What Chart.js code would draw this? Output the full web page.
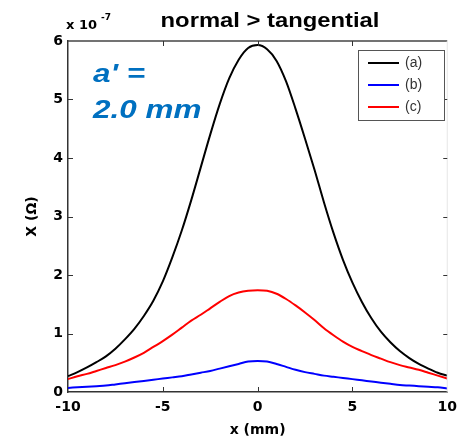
<!DOCTYPE html>
<html>
<head>
<meta charset="utf-8">
<script src="https://cdn.jsdelivr.net/npm/chart.js@4"></script>
<style>
  body { margin: 0; background: #fff; }
</style>
</head>
<body>
<canvas id="myChart" width="464" height="441"></canvas>
<script>
// x positions (mm)
const xValues = [-10, -9.5, -9, -8.5, -8, -7.5, -7, -6.5, -6, -5.5, -5, -4.5, -4, -3.5, -3, -2.5, -2, -1.5, -1, -0.5,
  0, 0.5, 1, 1.5, 2, 2.5, 3, 3.5, 4, 4.5, 5, 5.5, 6, 6.5, 7, 7.5, 8, 8.5, 9, 9.5, 10];
// X in units of 1e-7 ohm
const seriesA = [0.27, 0.34, 0.42, 0.51, 0.61, 0.74, 0.90, 1.08, 1.30, 1.56, 1.89, 2.30, 2.76, 3.28, 3.84, 4.40, 4.92, 5.36, 5.68, 5.88,
  5.93, 5.86, 5.66, 5.31, 4.84, 4.33, 3.80, 3.24, 2.72, 2.26, 1.87, 1.54, 1.26, 1.03, 0.85, 0.70, 0.58, 0.48, 0.40, 0.33, 0.28];
const seriesB = [0.07, 0.08, 0.09, 0.10, 0.11, 0.13, 0.15, 0.17, 0.19, 0.21, 0.23, 0.25, 0.27, 0.30, 0.33, 0.36, 0.40, 0.44, 0.48, 0.52,
  0.53, 0.52, 0.48, 0.43, 0.38, 0.34, 0.31, 0.28, 0.26, 0.24, 0.22, 0.20, 0.18, 0.16, 0.14, 0.12, 0.11, 0.10, 0.09, 0.08, 0.06];
const seriesC = [0.22, 0.27, 0.31, 0.36, 0.41, 0.46, 0.52, 0.59, 0.67, 0.77, 0.87, 0.98, 1.10, 1.22, 1.32, 1.43, 1.54, 1.64, 1.70, 1.73,
  1.74, 1.73, 1.68, 1.59, 1.48, 1.36, 1.23, 1.09, 0.97, 0.86, 0.77, 0.70, 0.63, 0.57, 0.51, 0.46, 0.42, 0.38, 0.33, 0.28, 0.23];
const seriesLabels = ['(a)', '(b)', '(c)'];
const seriesColors = ['#000000', '#0000ff', '#ff0000'];
const xTicks = [-10, -5, 0, 5, 10];
const yTicks = [0, 1, 2, 3, 4, 5, 6];

const toPoints = arr => arr.map((v, i) => ({ x: xValues[i], y: v }));

const decor = {
  id: 'decor',
  afterDraw(chart) {
    const ctx = chart.ctx;
    const a = chart.chartArea;
    const xs = chart.scales.x, ys = chart.scales.y;
    ctx.save();
    // top border and faint right border
    ctx.strokeStyle = '#444';
    ctx.lineWidth = 1.5;
    ctx.beginPath();
    ctx.moveTo(a.left, a.top); ctx.lineTo(a.right, a.top);
    ctx.stroke();
    ctx.strokeStyle = '#e6e6e6';
    ctx.lineWidth = 1;
    ctx.beginPath();
    ctx.moveTo(a.right, a.top); ctx.lineTo(a.right, a.bottom);
    ctx.stroke();
    // inward tick marks
    ctx.strokeStyle = '#333';
    ctx.lineWidth = 1;
    ctx.beginPath();
    xTicks.slice(1, -1).forEach(t => {
      const px = Math.round(xs.getPixelForValue(t)) + 0.5;
      ctx.moveTo(px, a.bottom); ctx.lineTo(px, a.bottom - 5);
      ctx.moveTo(px, a.top); ctx.lineTo(px, a.top + 5);
    });
    yTicks.slice(1, -1).forEach(t => {
      const py = Math.round(ys.getPixelForValue(t)) + 0.5;
      ctx.moveTo(a.left, py); ctx.lineTo(a.left + 5, py);
      ctx.moveTo(a.right, py); ctx.lineTo(a.right - 4, py);
    });
    ctx.stroke();

    // title (stretched like the source image)
    ctx.fillStyle = '#000';
    ctx.textAlign = 'center';
    ctx.textBaseline = 'alphabetic';
    ctx.save();
    ctx.translate(270, 27);
    ctx.scale(1.19, 1);
    ctx.font = 'bold 20px "Liberation Sans", Arial, sans-serif';
    ctx.fillText('normal > tangential', 0, 0);
    ctx.restore();

    // exponent label
    ctx.textAlign = 'left';
    ctx.font = 'bold 13px "DejaVu Sans", sans-serif';
    ctx.fillText('x 10', 66, 29);
    ctx.font = 'bold 9px "DejaVu Sans", sans-serif';
    ctx.fillText('-7', 101, 20);

    // blue annotation
    ctx.fillStyle = '#0070c0';
    ctx.save();
    ctx.translate(93, 82);
    ctx.scale(1.21, 1);
    ctx.font = 'italic bold 26px "Liberation Sans", Arial, sans-serif';
    ctx.fillText("a' =", 0, 0);
    ctx.fillText('2.0 mm', 0, 36);
    ctx.restore();

    // legend box
    const lx = 358, ly = 50, lw = 86, lh = 70;
    ctx.fillStyle = '#fff';
    ctx.fillRect(lx, ly, lw, lh);
    ctx.strokeStyle = '#555';
    ctx.lineWidth = 1;
    ctx.strokeRect(lx + 0.5, ly + 0.5, lw, lh);
    ctx.font = '14px "Liberation Sans", Arial, sans-serif';
    ctx.textBaseline = 'middle';
    chart.data.datasets.forEach((ds, i) => {
      const y = ly + 13 + i * 22;
      ctx.strokeStyle = ds.borderColor;
      ctx.lineWidth = 2;
      ctx.beginPath();
      ctx.moveTo(lx + 10, y); ctx.lineTo(lx + 41, y);
      ctx.stroke();
      ctx.fillStyle = '#333';
      ctx.fillText(ds.label, lx + 47, y);
    });
    ctx.restore();
  }
};

const tickFont = { family: '"DejaVu Sans", sans-serif', size: 14, weight: 'bold' };

const config = {
  type: 'line',
  data: {
    datasets: [seriesA, seriesB, seriesC].map((s, i) => ({
      label: seriesLabels[i],
      data: toPoints(s),
      borderColor: seriesColors[i],
      backgroundColor: seriesColors[i],
      borderWidth: 2,
      pointRadius: 0,
      cubicInterpolationMode: 'monotone',
      fill: false
    }))
  },
  options: {
    responsive: false,
    animation: false,
    layout: { padding: { left: 0, right: 13, top: 41, bottom: 0 } },
    plugins: {
      legend: { display: false },
      tooltip: { enabled: false },
      title: { display: false }
    },
    scales: {
      x: {
        type: 'linear',
        min: -10,
        max: 10,
        afterFit: s => { s.height = 49; },
        afterBuildTicks: s => { s.ticks = xTicks.map(v => ({ value: v })); },
        grid: { display: false, drawTicks: false },
        border: { display: true, color: '#333', width: 1.5 },
        ticks: { color: '#000', font: tickFont, padding: 7, maxRotation: 0 },
        title: {
          display: true,
          text: 'x (mm)',
          color: '#000',
          font: tickFont,
          padding: { top: 0, bottom: 2 }
        }
      },
      y: {
        min: 0,
        max: 6,
        afterFit: s => { s.width = 68; },
        afterBuildTicks: s => { s.ticks = yTicks.map(v => ({ value: v })); },
        grid: { display: false, drawTicks: false },
        border: { display: true, color: '#333', width: 1.5 },
        ticks: { color: '#000', font: tickFont, padding: 5 },
        title: {
          display: true,
          text: 'X (Ω)',
          color: '#000',
          font: tickFont,
          padding: { top: 24, bottom: 0 }
        }
      }
    }
  },
  plugins: [decor]
};

new Chart(document.getElementById('myChart'), config);
</script>
</body>
</html>
